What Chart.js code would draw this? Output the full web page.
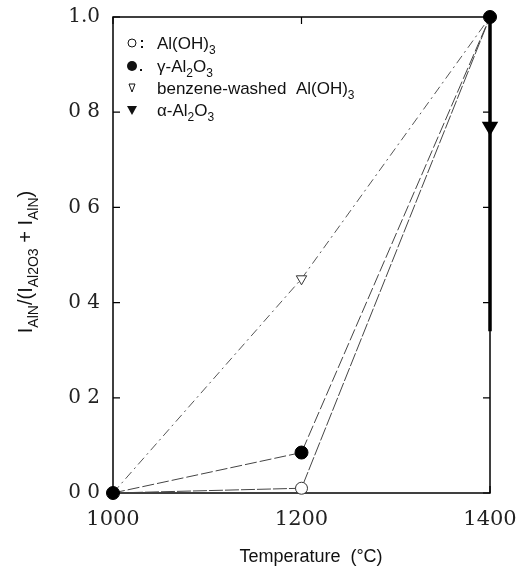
<!DOCTYPE html>
<html>
<head>
<meta charset="utf-8">
<script src="https://cdn.jsdelivr.net/npm/chart.js@4.4.1/dist/chart.umd.min.js"></script>
<style>
  html, body { margin: 0; padding: 0; background: #fff; }
  #wrap { width: 521px; height: 577px; position: relative; }
</style>
</head>
<body>
<div id="wrap"><canvas id="grafico"></canvas></div>
<script>
// datos
const temperaturas = [1000, 1200, 1400];
const alOH3 = [0, 0.01, 1.0];
const gammaAl2O3 = [0, 0.085, 1.0];
const bencenoAlOH3 = [0, 0.45, 1.0];
const alfaTemps = [1400, 1400, 1400];
const alfaAl2O3 = [1.0, 0.77, 0.34];
const xTicks = [1000, 1200, 1400];
const xTickLabels = ['1000', '1200', '1400'];
const yTicks = [0, 0.2, 0.4, 0.6, 0.8, 1.0];
const yTickLabels = ['0 0', '0 2', '0 4', '0 6', '0 8', '1.0'];

const SANS = '"Liberation Sans", Arial, sans-serif';
const SERIF = '"DejaVu Serif", serif';

const puntos = (xs, ys) => xs.map((x, i) => ({ x: x, y: ys[i] }));

// texto con subindices
function textoRico(ctx, partes, x, y, size, centrado) {
    const medir = p => {
        ctx.font = (p.sub ? Math.round(size * 0.7) : size) + 'px ' + SANS;
        return ctx.measureText(p.t).width;
    };
    let total = 0;
    partes.forEach(p => total += medir(p));
    let cx = centrado ? x - total / 2 : x;
    ctx.textBaseline = 'alphabetic';
    ctx.textAlign = 'left';
    partes.forEach(p => {
        const w = medir(p);
        ctx.fillText(p.t, cx, p.sub ? y + size * 0.28 : y);
        cx += w;
    });
}

const marcoPlugin = {
    id: 'marco',
    beforeDatasetsDraw(chart) {
        const { ctx, chartArea: a, scales } = chart;
        ctx.save();
        ctx.strokeStyle = '#000';
        ctx.lineWidth = 1.5;
        ctx.strokeRect(a.left, a.top, a.right - a.left, a.bottom - a.top);
        ctx.lineWidth = 1.2;
        const tl = 7;
        xTicks.forEach(v => {
            const px = scales.x.getPixelForValue(v);
            ctx.beginPath();
            ctx.moveTo(px, a.bottom); ctx.lineTo(px, a.bottom - tl);
            ctx.moveTo(px, a.top); ctx.lineTo(px, a.top + tl);
            ctx.stroke();
        });
        yTicks.forEach(v => {
            const py = scales.y.getPixelForValue(v);
            ctx.beginPath();
            ctx.moveTo(a.left, py); ctx.lineTo(a.left + tl, py);
            ctx.moveTo(a.right, py); ctx.lineTo(a.right - tl, py);
            ctx.stroke();
        });
        ctx.restore();
    },
    afterDraw(chart) {
        const { ctx, chartArea: a } = chart;
        ctx.save();
        ctx.fillStyle = '#111';
        ctx.strokeStyle = '#111';
        // leyenda
        const lx = a.left + 19, tx = a.left + 44;
        const filas = [
            [{ t: 'Al(OH)' }, { t: '3', sub: true }],
            [{ t: 'γ-Al' }, { t: '2', sub: true }, { t: 'O' }, { t: '3', sub: true }],
            [{ t: 'benzene-washed  Al(OH)' }, { t: '3', sub: true }],
            [{ t: 'α-Al' }, { t: '2', sub: true }, { t: 'O' }, { t: '3', sub: true }]
        ];
        const ys = [43, 66, 88, 110];
        ctx.lineWidth = 1;
        // simbolos
        ctx.beginPath(); ctx.arc(lx, ys[0], 4, 0, Math.PI * 2); ctx.stroke();
        ctx.fillRect(lx + 9, ys[0] - 3, 2, 2);
        ctx.fillRect(lx + 9, ys[0] + 3, 2, 2);
        ctx.beginPath(); ctx.arc(lx, ys[1], 5, 0, Math.PI * 2); ctx.fill();
        ctx.fillRect(lx + 8, ys[1] + 3, 2, 2);
        ctx.beginPath();
        ctx.moveTo(lx - 3, ys[2] - 4); ctx.lineTo(lx + 3, ys[2] - 4); ctx.lineTo(lx, ys[2] + 4); ctx.closePath();
        ctx.stroke();
        ctx.beginPath();
        ctx.moveTo(lx - 5, ys[3] - 4); ctx.lineTo(lx + 5, ys[3] - 4); ctx.lineTo(lx, ys[3] + 5); ctx.closePath();
        ctx.fill();
        filas.forEach((f, i) => {
            textoRico(ctx, f, tx, ys[i] + 6, 17, false);
        });
        // titulo eje x
        ctx.font = '18px ' + SANS;
        ctx.textAlign = 'center';
        ctx.textBaseline = 'middle';
        ctx.fillText('Temperature  (°C)', 311, 557);
        // titulo eje y
        ctx.translate(32, 262);
        ctx.rotate(-Math.PI / 2);
        textoRico(ctx, [
            { t: 'I' }, { t: 'AlN', sub: true }, { t: '/(I' }, { t: 'Al2O3', sub: true },
            { t: ' + I' }, { t: 'AlN', sub: true }, { t: ')' }
        ], 0, 0, 20, true);
        ctx.restore();
    }
};

const ctx = document.getElementById('grafico').getContext('2d');
new Chart(ctx, {
    type: 'line',
    data: {
        datasets: [
            {
                label: 'Al(OH)3',
                data: puntos(temperaturas, alOH3),
                borderColor: '#444',
                borderWidth: 1,
                borderDash: [14, 2],
                pointStyle: 'circle',
                pointRadius: [0, 6, 0],
                pointBackgroundColor: '#fff',
                pointBorderColor: '#333',
                pointBorderWidth: 1,
                clip: false,
                order: 3
            },
            {
                label: 'γ-Al2O3',
                data: puntos(temperaturas, gammaAl2O3),
                borderColor: '#444',
                borderWidth: 1,
                borderDash: [12, 3],
                pointStyle: 'circle',
                pointRadius: 6.5,
                pointBackgroundColor: '#000',
                pointBorderColor: '#000',
                clip: false,
                order: 1
            },
            {
                label: 'benzene-washed Al(OH)3',
                data: puntos(temperaturas, bencenoAlOH3),
                borderColor: '#555',
                borderWidth: 1,
                borderDash: [9, 4, 2, 4],
                pointStyle: 'triangle',
                pointRotation: 180,
                pointRadius: [0, 6, 0],
                pointBackgroundColor: '#fff',
                pointBorderColor: '#333',
                pointBorderWidth: 1,
                clip: false,
                order: 4
            },
            {
                label: 'α-Al2O3',
                data: puntos(alfaTemps, alfaAl2O3),
                borderColor: '#000',
                borderWidth: 3.5,
                pointStyle: 'triangle',
                pointRotation: 180,
                pointRadius: [0, 6, 0],
                pointBackgroundColor: '#000',
                pointBorderColor: '#000',
                clip: false,
                order: 2
            }
        ]
    },
    options: {
        responsive: true,
        maintainAspectRatio: false,
        animation: false,
        layout: { padding: { top: 17, right: 31, left: 0, bottom: 0 } },
        plugins: { legend: { display: false }, tooltip: { enabled: false } },
        scales: {
            x: {
                type: 'linear',
                min: 1000,
                max: 1400,
                afterBuildTicks: s => { s.ticks = xTicks.map(v => ({ value: v })); },
                afterFit: s => { s.height = 84; s.paddingLeft = 0; s.paddingRight = 0; },
                grid: { display: false, drawTicks: false },
                border: { display: false },
                ticks: {
                    padding: 14,
                    color: '#222',
                    font: { family: SERIF, size: 21 },
                    callback: v => xTickLabels[xTicks.indexOf(v)]
                }
            },
            y: {
                type: 'linear',
                min: 0,
                max: 1,
                afterBuildTicks: s => { s.ticks = yTicks.map(v => ({ value: v })); },
                afterFit: s => { s.width = 113; s.paddingTop = 0; s.paddingBottom = 0; },
                grid: { display: false, drawTicks: false },
                border: { display: false },
                ticks: {
                    padding: 13,
                    color: '#222',
                    font: { family: SERIF, size: 20 },
                    callback: (v, i) => yTickLabels[i]
                }
            }
        }
    },
    plugins: [marcoPlugin]
});
</script>
</body>
</html>
